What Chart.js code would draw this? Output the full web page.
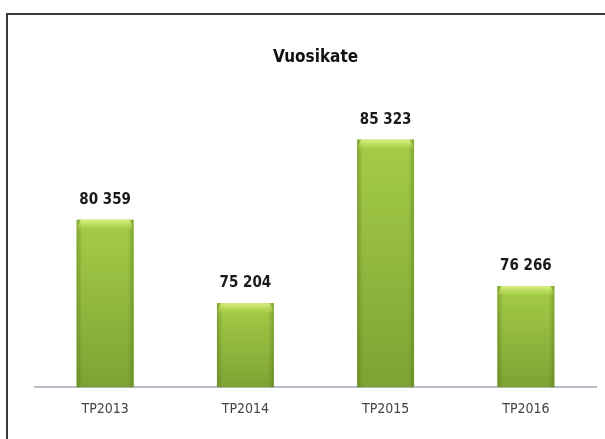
<!DOCTYPE html>
<html>
<head>
<meta charset="utf-8">
<script src="https://cdn.jsdelivr.net/npm/chart.js@4.4.1/dist/chart.umd.min.js"></script>
<style>
  html, body { margin: 0; padding: 0; background: #fff; overflow: hidden; }
  #frame { position: absolute; left: 6px; top: 13px; width: 700px; height: 500px; border: 2px solid #3a3a3a; }
  #wrap { position: absolute; left: 0; top: 0; width: 605px; height: 439px; }
</style>
</head>
<body>
<div id="frame"></div>
<div id="wrap"><canvas id="chart" width="605" height="439"></canvas></div>
<script>
// values
const categories = ["TP2013", "TP2014", "TP2015", "TP2016"];
const vuosikate = [80359, 75204, 85323, 76266];
const chartTitle = "Vuosikate";
const yMin = 70000;
const yMax = 88000;

const narrow = "'DejaVu Sans Condensed', 'Liberation Sans Narrow', 'Open Sans', sans-serif";

function fmt(v) {
  // finnish style thousands separator
  return String(v).replace(/\B(?=(\d{3})+(?!\d))/g, " ");
}

// shade the bars like the office-style bevelled columns
const barShade = {
  id: "barShade",
  afterDatasetDraw(chart, args) {
    const ctx = chart.ctx;
    args.meta.data.forEach((bar) => {
      const left = bar.x - bar.width / 2;
      const top = bar.y;
      const w = bar.width;
      const h = bar.base - bar.y;
      ctx.save();
      let g = ctx.createLinearGradient(0, top, 0, bar.base);
      g.addColorStop(0, "#aad24a");
      g.addColorStop(1, "#80a635");
      ctx.fillStyle = g;
      ctx.fillRect(left, top, w, h);
      // darker sides
      g = ctx.createLinearGradient(left, 0, left + w, 0);
      g.addColorStop(0, "rgba(70,100,20,0.4)");
      g.addColorStop(0.1, "rgba(70,100,20,0.05)");
      g.addColorStop(0.9, "rgba(70,100,20,0.05)");
      g.addColorStop(1, "rgba(70,100,20,0.4)");
      ctx.fillStyle = g;
      ctx.fillRect(left, top, w, h);
      // top bevel
      g = ctx.createLinearGradient(0, top, 0, top + 9);
      g.addColorStop(0, "rgba(225,245,140,0.9)");
      g.addColorStop(1, "rgba(190,225,90,0.2)");
      ctx.fillStyle = g;
      ctx.beginPath();
      ctx.moveTo(left, top + 9);
      ctx.lineTo(left + 4, top);
      ctx.lineTo(left + w - 4, top);
      ctx.lineTo(left + w, top + 9);
      ctx.closePath();
      ctx.fill();
      ctx.restore();
    });
  }
};

const valueLabels = {
  id: "valueLabels",
  afterDatasetsDraw(chart) {
    const ctx = chart.ctx;
    const meta = chart.getDatasetMeta(0);
    ctx.save();
    ctx.font = "bold 15px " + narrow;
    ctx.fillStyle = "#1a1a1a";
    ctx.textAlign = "center";
    ctx.textBaseline = "middle";
    meta.data.forEach((bar, i) => {
      ctx.fillText(fmt(chart.data.datasets[0].data[i]), bar.x, bar.y - 20);
    });
    ctx.restore();
  }
};

new Chart(document.getElementById("chart"), {
  type: "bar",
  data: {
    labels: categories,
    datasets: [{
      label: chartTitle,
      data: vuosikate,
      base: yMin,
      backgroundColor: "#93bf3c",
      categoryPercentage: 1,
      barPercentage: 0.405
    }]
  },
  options: {
    responsive: false,
    animation: false,
    layout: { padding: { left: 35, right: 9, top: 0, bottom: 7 } },
    plugins: {
      legend: { display: false },
      tooltip: { enabled: false },
      title: {
        display: true,
        text: chartTitle,
        color: "#111",
        font: { family: narrow, size: 17, weight: "bold" },
        padding: { top: 47, bottom: 29 }
      }
    },
    scales: {
      x: {
        grid: { display: false, drawTicks: false },
        border: { display: true, color: "#b8bcc6", width: 2 },
        ticks: { color: "#444", font: { family: narrow, size: 14 }, padding: 14 }
      },
      y: {
        display: false,
        min: yMin,
        max: yMax
      }
    }
  },
  plugins: [barShade, valueLabels]
});
</script>
</body>
</html>
